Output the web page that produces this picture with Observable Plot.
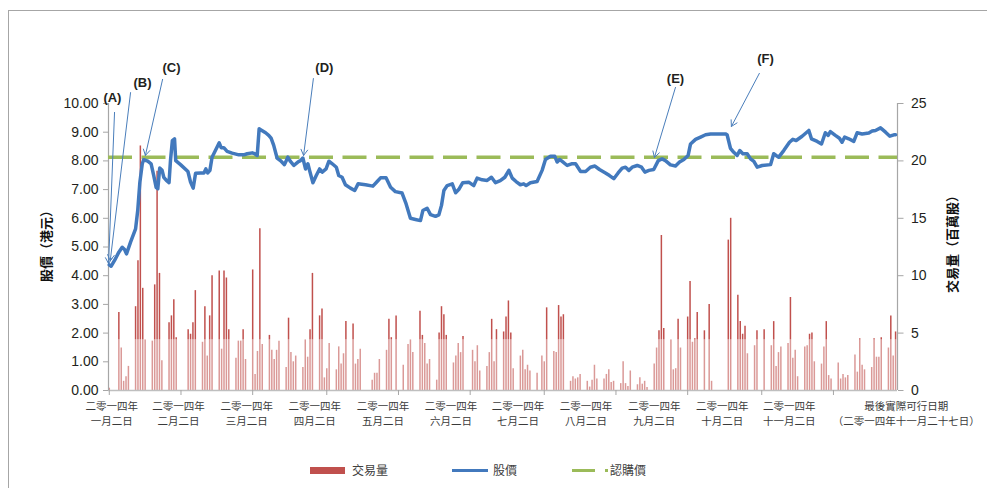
<!DOCTYPE html>
<html><head><meta charset="utf-8">
<script src="https://cdn.jsdelivr.net/npm/d3@7"></script>
<script src="https://cdn.jsdelivr.net/npm/@observablehq/plot@0.6"></script>
<style>
html,body{margin:0;padding:0;background:#fff;width:987px;height:488px;overflow:hidden;position:relative;}
#chart{position:absolute;left:0;top:0;}
#border{position:absolute;left:8px;top:10px;width:1200px;height:900px;border:1px solid #a6a6a6;box-sizing:border-box;pointer-events:none;}
#legend{position:absolute;left:0;top:460px;width:987px;height:22px;font-family:"Noto Sans CJK TC","Noto Sans CJK SC",sans-serif;font-size:12px;color:#404040;}
#legend span{position:absolute;top:0;line-height:20px;white-space:nowrap;}
#legend i{position:absolute;display:block;}
</style></head>
<body>
<div id="chart"></div>
<div id="legend">
  <i style="left:310px;top:7px;width:35px;height:7px;background:#c0504d"></i>
  <span style="left:352px">交易量</span>
  <i style="left:452px;top:9px;width:36px;height:3px;background:#4279bd"></i>
  <span style="left:493px">股價</span>
  <i style="left:572px;top:9px;width:23px;height:3px;background:#9bbb59"></i>
  <i style="left:605px;top:9px;width:3px;height:3px;background:#9bbb59"></i>
  <span style="left:610px">認購價</span>
</div>
<div id="border"></div>
<script>
// ---------------- data ----------------
const startDate = "2014-01-02";
const endDate = "2014-11-27";
const priceMax = 10, volMax = 25;           // left axis (HK$) and right axis (million shares)
const priceTicks = [0,1,2,3,4,5,6,7,8,9,10];
const volTicks = [0,5,10,15,20,25];
const subscriptionPrice = 8.13;
const volumeShadeTop = 4.43;                // lighter lower part of the bars

// x tick marks and labels, in days since 2 Jan 2014
const tickDays = [0,30,60,91,121,151,182,212,242,273,303];
const labelDays = [1,29,57.5,86,114.5,143,171,199.5,228,256.5,284.5,333.5];
const labelLine1 = ["二零一四年","二零一四年","二零一四年","二零一四年","二零一四年","二零一四年",
  "二零一四年","二零一四年","二零一四年","二零一四年","二零一四年","最後實際可行日期"];
const labelLine2 = ["一月二日","二月二日","三月二日","四月二日","五月二日","六月二日",
  "七月二日","八月二日","九月二日","十月二日","十一月二日","（二零一四年十一月二十七日）"];

// daily volume (million shares), one value per weekday from 2 Jan to 27 Nov 2014
const volumes = [
  0.2,0,
  6.8,3.7,0.8,1.2,2.1,  7.3,11.3,21.3,8.9,4.4,  4.3,9.2,19.1,10.2,2.6,  5.9,6.5,7.9,4.6,0,
  0,5.3,4.9,5.9,8.7,  4.2,7.3,3.0,6.5,10.0,  10.4,3.6,10.4,9.8,5.3,  2.8,4.3,4.3,5.3,2.7,
  10.5,1.4,3.4,14.1,4.0,  4.8,3.5,2.7,3.5,4.3,  2.0,6.3,3.3,2.5,3.0,  2.0,4.4,2.9,5.3,10.2,
  6.5,7.1,1.1,1.9,4.1,  1.8,3.8,2.3,3.2,6.0,  5.8,2.3,2.7,3.6,0,  0,0.9,1.5,1.5,2.7,
  3.5,6.2,4.6,0,6.5,  2.2,0,4.0,4.4,3.3,  6.9,4.8,4.1,2.3,2.7,  0.9,5.0,7.3,6.6,4.8,
  2.4,3.0,4.1,3.3,4.7,  0,3.5,2.5,3.9,1.7,  2.1,3.3,6.2,2.5,5.3,  5.1,6.4,7.8,5.0,1.9,
  3.0,3.5,1.8,2.2,1.7,  1.5,0,3.0,2.5,7.2,  3.4,3.3,7.4,6.4,6.6,  0.8,1.2,1.0,1.1,1.4,
  0.8,0.3,0.9,2.2,1.0,  1.0,1.4,1.8,0.7,0.8,  0.6,2.5,0.6,0.35,1.7,  0.5,1.1,0.55,0.8,0.26,
  2.3,3.7,5.2,13.5,5.4,  4.4,1.8,1.9,6.2,3.7,  6.4,9.5,4.2,4.5,6.8,  5.2,0,7.5,0.8,0,
  0,0,0,13.1,15.0,  8.3,6.0,4.9,5.6,3.2,  3.9,5.2,0,0,5.3,  3.9,6.0,2.1,3.3,3.8,
  4.1,8.1,2.8,3.5,1.2,  3.8,3.9,4.9,5.0,2.5,  2.3,3.8,6.0,1.3,1.0,  2.4,1.0,1.4,1.1,1.3,
  3.1,1.6,4.5,2.2,1.8,  2.0,4.5,2.9,2.9,4.6,  3.7,6.5,3.0,5.1
];

// share price (HK$), days since 2 Jan 2014
const priceDays = [0,0.8,2.2,4.0,5.4,6.4,7.2,8.9,11.0,11.9,12.8,13.8,14.4,16.1,17.5,18.6,19.6,20.3,21.1,22.1,22.8,23.9,25.0,25.6,26.4,27.3,27.8,29.8,32.9,34.0,35.1,36.1,38.2,39.6,40.4,41.2,42.1,43.0,44.4,46.0,46.8,47.9,49.3,51.4,54.2,56.3,57.7,59.8,60.8,61.9,62.7,63.5,65.4,66.7,67.7,68.8,70.2,71.6,73.3,74.7,75.8,77.2,78.9,80.0,81.0,82.1,83.1,83.8,85.2,86.6,88.0,89.1,90.7,91.9,93.3,95.0,96.0,97.4,98.8,100.9,102.7,104.1,107.2,110.3,112.1,113.5,115.8,117.7,119.7,122.5,124.2,126.0,128.1,130.2,131.2,133.0,134.4,136.5,137.9,139.0,140.0,141.4,143.5,144.9,146.2,147.9,150.4,152.5,153.9,156.0,158.1,159.9,161.6,163.6,165.5,167.2,168.6,170.2,172.0,173.4,174.4,176.2,179.0,181.1,182.5,184.6,186.4,187.4,188.4,189.5,191.6,193.4,195.1,197.2,199.3,201.3,203.2,205.1,207.6,209.3,211.1,212.9,214.6,216.0,217.4,218.8,220.9,222.7,224.1,225.8,227.8,229.7,231.3,232.7,234.8,236.9,238.6,240.4,242.2,243.2,245.3,247.4,249.5,251.6,257.8,258.5,259.9,261.3,262.7,263.8,265.1,266.9,268.3,269.7,271.1,273.2,276.7,278.0,279.0,280.1,282.2,284.6,286.0,287.4,289.9,292.7,293.8,296.2,298.0,299.6,300.8,301.7,303.8,305.5,306.6,307.7,309.4,311.5,312.9,315.0,317.8,319.2,320.6,322.7,324.8,326.6,328.3,329.0];
const priceValues = [4.38,4.33,4.53,4.82,4.99,4.91,4.76,5.17,5.63,6.27,7.26,7.90,8.04,7.99,7.90,7.49,7.08,7.03,7.75,7.67,7.43,7.32,7.24,8.01,8.71,8.77,8.01,7.87,7.63,7.26,7.05,7.57,7.58,7.58,7.72,7.58,7.67,8.13,8.36,8.63,8.46,8.46,8.33,8.27,8.21,8.21,8.25,8.28,8.25,8.19,9.12,9.08,8.98,8.89,8.79,8.54,8.10,8.01,7.87,8.13,7.98,7.84,7.96,8.01,8.10,7.72,7.90,7.67,7.24,7.49,7.72,7.61,7.72,7.99,7.90,7.78,7.49,7.43,7.17,7.05,6.97,7.20,7.17,7.12,7.28,7.41,7.41,7.08,6.93,6.88,6.50,6.00,5.96,5.92,6.27,6.35,6.13,6.07,6.12,6.45,6.97,7.14,7.20,6.89,7.00,7.24,7.26,7.14,7.40,7.34,7.32,7.43,7.24,7.31,7.43,7.67,7.40,7.28,7.17,7.20,7.14,7.24,7.28,7.67,8.05,8.16,8.16,7.96,8.05,7.98,7.84,7.90,7.90,7.63,7.63,7.78,7.82,7.70,7.58,7.49,7.38,7.58,7.75,7.78,7.67,7.78,7.84,7.78,7.61,7.67,7.70,8.01,8.07,8.01,7.86,7.82,7.96,8.05,8.19,8.59,8.75,8.83,8.91,8.94,8.94,8.91,8.44,8.30,8.19,8.36,8.25,8.25,8.07,7.98,7.78,7.84,7.87,8.25,8.19,8.13,8.36,8.65,8.75,8.71,8.86,9.06,8.77,8.68,8.59,8.98,8.89,9.02,8.89,8.79,8.65,8.83,8.77,8.68,8.98,8.94,8.97,9.04,9.06,9.15,9.00,8.86,8.91,8.91];

// annotations: label, label position, arrow start, arrow tip (day, HK$)
const annLabels = ["(A)","(B)","(C)","(D)","(E)","(F)"];
const annLabelDay = [1.3,13.9,26.0,90.0,236.9,274.6];
const annLabelPrice = [10.21,10.73,11.25,11.25,10.87,11.57];
const annFromDay = [2.2,8.9,22.3,85.4,236.9,272.0];
const annFromPrice = [9.69,10.38,10.84,10.87,10.56,11.05];
const annToDay = [-0.3,0.4,15.1,81.3,228.1,260.3];
const annToPrice = [4.42,4.52,8.19,8.19,8.12,9.20];

// ---------------- build ----------------
const volScale = volMax / priceMax;
const t0 = Date.parse(startDate + "T00:00:00Z");
const days = d3.utcDays(new Date(t0), d3.utcDay.offset(new Date(Date.parse(endDate + "T00:00:00Z")), 1))
  .filter(d => d.getUTCDay() !== 0 && d.getUTCDay() !== 6);
const bars = days.map((d, i) => ({day: (d - t0) / 864e5, vol: volumes[i] ?? 0})).filter(d => d.vol > 0);
const price = priceDays.map((d, i) => ({day: d, price: priceValues[i]}));
const labels = labelDays.map((d, i) => ({day: d, l1: labelLine1[i], l2: labelLine2[i]}));
const ann = annLabels.map((l, i) => ({
  label: l, lx: annLabelDay[i], ly: annLabelPrice[i],
  x1: annFromDay[i], y1: annFromPrice[i], x2: annToDay[i], y2: annToPrice[i]
}));
const xDomain = [-0.33, 329.8];
const cjk = '"Noto Sans CJK TC","Noto Sans CJK SC",sans-serif';

const chart = Plot.plot({
  width: 987,
  height: 445,
  marginLeft: 108,
  marginRight: 90,
  marginTop: 103,
  marginBottom: 55,
  style: {fontFamily: '"Liberation Sans", Arial, Helvetica, sans-serif', background: "transparent", overflow: "visible"},
  x: {type: "linear", domain: xDomain},
  y: {domain: [0, priceMax]},
  marks: [
    Plot.ruleX(bars, {x: "day", y1: 0, y2: d => d.vol / volScale, stroke: "#c0504d", strokeWidth: 1.5}),
    Plot.rect([0], {x1: xDomain[0], x2: xDomain[1], y1: 0, y2: volumeShadeTop / volScale, fill: "white", fillOpacity: 0.42}),
    Plot.ruleY([0], {stroke: "#bfbfbf", strokeWidth: 1.5}),
    Plot.ruleX([xDomain[0]], {y1: 0, y2: priceMax, stroke: "#a6a6a6", strokeWidth: 1.2}),
    Plot.ruleX([xDomain[1]], {y1: 0, y2: priceMax, stroke: "#a6a6a6", strokeWidth: 1.2}),
    Plot.axisY(priceTicks, {anchor: "left", tickSize: 5, tickPadding: 5, tickFormat: d => d.toFixed(2), fontSize: 14, stroke: "#a6a6a6", fill: "#231f20", label: null}),
    Plot.axisY(volTicks.map(v => v / volScale), {anchor: "right", tickSize: 5.5, tickPadding: 8, tickFormat: d => String(Math.round(d * volScale)), fontSize: 14, stroke: "#a6a6a6", fill: "#231f20", label: null}),
    Plot.axisX(tickDays, {anchor: "bottom", tickSize: 5, stroke: "#a6a6a6", fill: "none", label: null}),
    Plot.text(labels, {x: "day", frameAnchor: "bottom", text: "l1", dy: 19.5, fontSize: 10.5, fill: "#3a3a3a", fontFamily: cjk}),
    Plot.text(labels, {x: "day", frameAnchor: "bottom", text: "l2", dy: 34.5, fontSize: 10.5, fill: "#3a3a3a", fontFamily: cjk}),
    Plot.text(["股價（港元）"], {frameAnchor: "left", textAnchor: "middle", dx: -62, dy: -4, rotate: -90, fontSize: 13, fontWeight: "bold", fill: "#111", fontFamily: cjk}),
    Plot.text(["交易量（百萬股）"], {frameAnchor: "right", textAnchor: "middle", dx: 55, dy: -6, rotate: -90, fontSize: 13, fontWeight: "bold", fill: "#111", fontFamily: cjk}),
    Plot.ruleY([subscriptionPrice], {stroke: "#9bbb59", strokeWidth: 3.5, strokeDasharray: "24,9.5"}),
    Plot.line(price, {x: "day", y: "price", stroke: "#4279bd", strokeWidth: 3.5, strokeLinejoin: "round", strokeLinecap: "round"}),
    Plot.arrow(ann, {x1: "x1", y1: "y1", x2: "x2", y2: "y2", stroke: "#4a7ebb", strokeWidth: 1, headLength: 10}),
    Plot.text(ann, {x: "lx", y: "ly", text: "label", fontSize: 13, fontWeight: "bold", fill: "#231f20"})
  ]
});
document.getElementById("chart").appendChild(chart);
</script>
</body></html>
